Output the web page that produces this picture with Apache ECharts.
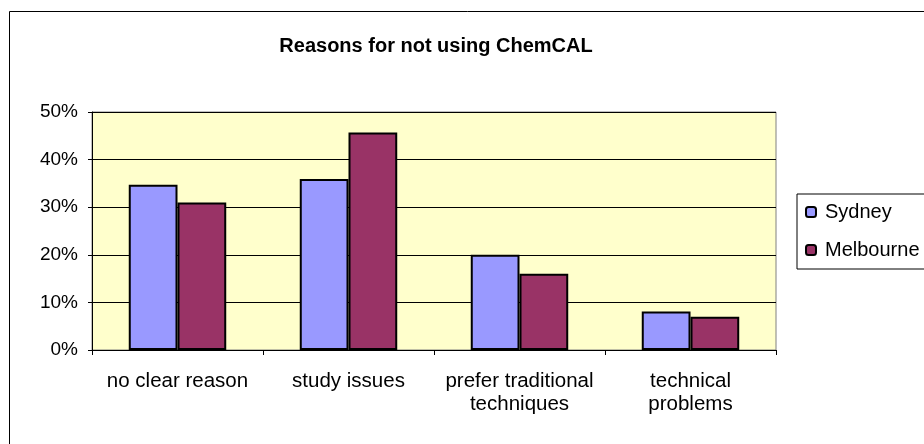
<!DOCTYPE html>
<html>
<head>
<meta charset="utf-8">
<script src="https://cdn.jsdelivr.net/npm/echarts@6/dist/echarts.min.js"></script>
<style>
html, body { margin: 0; padding: 0; background: #fff; }
#chart { width: 924px; height: 444px; }
</style>
</head>
<body>
<div id="chart"></div>
<script>
var categories = ['no clear reason', 'study issues', 'prefer traditional\ntechniques', 'technical\nproblems'];
var sydney = [34.7, 35.9, 20.0, 8.1];
var melbourne = [31.0, 45.7, 16.0, 7.0];

var chart = echarts.init(document.getElementById('chart'));

var option = {
    animation: false,
    textStyle: { fontFamily: 'Liberation Sans, Arial, sans-serif' },
    title: {
        text: 'Reasons for not using ChemCAL',
        left: 431,
        textAlign: 'center',
        top: 31,
        textStyle: { fontSize: 20, fontWeight: 'bold', color: '#000' }
    },
    graphic: [{
        type: 'rect',
        shape: { x: 9.5, y: 11.5, width: 940, height: 460 },
        style: { fill: 'none', stroke: '#000', lineWidth: 1 },
        z: -1
    }],
    legend: {
        orient: 'vertical',
        left: 797,
        top: 194,
        padding: [8, 30, 9, 8],
        itemWidth: 10,
        itemHeight: 10,
        itemGap: 18,
        backgroundColor: '#fff',
        borderColor: '#000',
        borderWidth: 1,
        textStyle: { fontSize: 20, color: '#000', padding: [0, 0, 0, 4] },
        data: ['Sydney', 'Melbourne']
    },
    grid: {
        left: 92,
        right: 148,
        top: 112,
        bottom: 94,
        show: true,
        backgroundColor: '#FFFFCC',
        borderColor: '#808080',
        borderWidth: 1
    },
    xAxis: {
        type: 'category',
        data: categories,
        axisLine: { lineStyle: { color: '#000', width: 1 } },
        axisTick: { show: true, length: 5, lineStyle: { color: '#000' } },
        axisLabel: { color: '#000', fontSize: 20.5, lineHeight: 23, margin: 20, interval: 0 }
    },
    yAxis: {
        type: 'value',
        min: 0,
        max: 50,
        interval: 10,
        axisLine: { show: true, lineStyle: { color: '#000', width: 1 } },
        axisTick: { show: true, length: 4, lineStyle: { color: '#000' } },
        axisLabel: { color: '#000', fontSize: 19, margin: 14, formatter: '{value}%' },
        splitLine: { show: true, lineStyle: { color: '#000', width: 1 } }
    },
    series: [
        {
            name: 'Sydney',
            type: 'bar',
            barGap: '0%',
            barCategoryGap: '43%',
            itemStyle: { color: '#9999FF', borderColor: '#000', borderWidth: 2 },
            data: sydney
        },
        {
            name: 'Melbourne',
            type: 'bar',
            itemStyle: { color: '#993366', borderColor: '#000', borderWidth: 2 },
            data: melbourne
        }
    ]
};

chart.setOption(option);
</script>
</body>
</html>
